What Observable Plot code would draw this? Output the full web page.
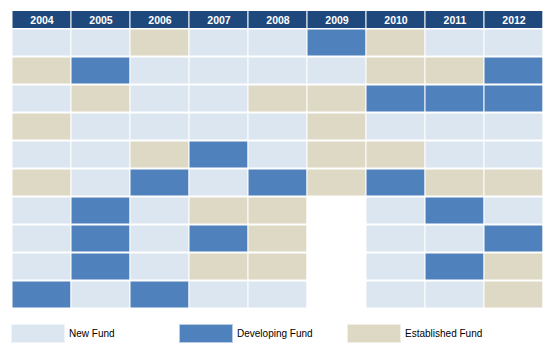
<!DOCTYPE html>
<html>
<head>
<meta charset="utf-8">
<script src="https://cdn.jsdelivr.net/npm/d3@7"></script>
<script src="https://cdn.jsdelivr.net/npm/@observablehq/plot@0.6"></script>
<style>
  html, body { margin: 0; padding: 0; background: #fff; }
  #chart svg { display: block; }
  .legend { display: flex; margin-top: 15px; font: 10px "Liberation Sans", Arial, sans-serif; color: #000; }
  .legend .item { display: flex; align-items: center; width: 168px; }
  .legend .sw { width: 54px; height: 19px; margin-right: 4px; box-sizing: border-box; border: 1px solid rgba(255,255,255,0.6); }
  .legend .item:first-child { margin-left: 11px; }
</style>
</head>
<body>
<div id="chart"></div>
<script>
const years = ["2004", "2005", "2006", "2007", "2008", "2009", "2010", "2011", "2012"];
const fundTypes = ["New Fund", "Developing Fund", "Established Fund"];
const fundColors = ["#DCE6F1", "#4F81BD", "#DDD9C4"];
// N = New Fund, D = Developing Fund, E = Established Fund (top row first)
const s2004 = ["N", "E", "N", "E", "N", "E", "N", "N", "N", "D"];
const s2005 = ["N", "D", "E", "N", "N", "N", "D", "D", "D", "N"];
const s2006 = ["E", "N", "N", "N", "E", "D", "N", "N", "N", "D"];
const s2007 = ["N", "N", "N", "N", "D", "N", "E", "D", "E", "N"];
const s2008 = ["N", "N", "E", "N", "N", "D", "E", "E", "E", "N"];
const s2009 = ["D", "N", "E", "E", "E", "E"];
const s2010 = ["E", "E", "D", "N", "E", "D", "N", "N", "N", "N"];
const s2011 = ["N", "E", "D", "N", "N", "E", "D", "N", "D", "N"];
const s2012 = ["N", "D", "D", "N", "N", "E", "N", "D", "E", "E"];

const codeMap = {N: "New Fund", D: "Developing Fund", E: "Established Fund"};
const columns = [s2004, s2005, s2006, s2007, s2008, s2009, s2010, s2011, s2012];
const rowIdx = d3.range(10);
const cells = [];
columns.forEach((col, i) => col.forEach((c, r) => cells.push({year: years[i], row: r, type: codeMap[c]})));

const font = '"Liberation Sans", Arial, sans-serif';

const header = Plot.plot({
  width: 551, height: 29,
  marginLeft: 11, marginRight: 8, marginTop: 11, marginBottom: 0,
  style: {fontFamily: font, background: "#fff"},
  x: {type: "band", domain: years, padding: 0, axis: null},
  marks: [
    Plot.cell(years, {x: d => d, fill: "#1F497D", insetLeft: 0.5, insetRight: 0.7, insetBottom: 1}),
    Plot.text(years, {x: d => d, frameAnchor: "middle", dy: 0, fill: "#fff", fontWeight: "bold", fontSize: 10.5})
  ]
});

const body = Plot.plot({
  width: 551, height: 280,
  marginLeft: 11, marginRight: 8, marginTop: 0, marginBottom: 0,
  style: {fontFamily: font, background: "#fff"},
  x: {type: "band", domain: years, padding: 0, axis: null},
  y: {type: "band", domain: rowIdx, padding: 0, axis: null},
  color: {domain: fundTypes, range: fundColors},
  marks: [
    Plot.cell(cells, {x: "year", y: "row", fill: "type", insetLeft: 0.5, insetRight: 0.7, insetTop: 0.5, insetBottom: 1.5})
  ]
});

const legend = document.createElement("div");
legend.className = "legend";
fundTypes.forEach((t, i) => {
  const item = document.createElement("div");
  item.className = "item";
  const sw = document.createElement("div");
  sw.className = "sw";
  sw.style.background = fundColors[i];
  const lab = document.createElement("span");
  lab.textContent = t;
  item.appendChild(sw);
  item.appendChild(lab);
  legend.appendChild(item);
});

const chart = document.getElementById("chart");
chart.appendChild(header);
chart.appendChild(body);
chart.appendChild(legend);
</script>
</body>
</html>
